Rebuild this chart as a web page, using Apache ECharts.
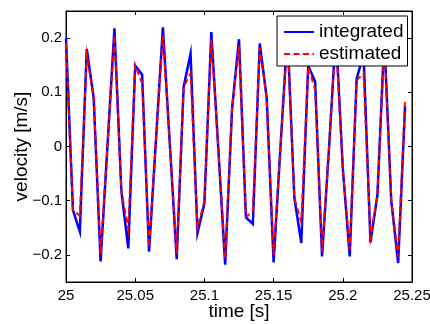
<!DOCTYPE html>
<html>
<head>
<meta charset="utf-8">
<script src="https://cdn.jsdelivr.net/npm/echarts@6/dist/echarts.min.js"></script>
<style>
html,body{margin:0;padding:0;background:#fff;}
#c{width:430px;height:324px;}
</style>
</head>
<body>
<div id="c"></div>
<script>
var time = [25.000,25.005,25.010,25.015,25.020,25.025,25.030,25.035,25.040,25.045,
            25.050,25.055,25.060,25.065,25.070,25.075,25.080,25.085,25.090,25.095,
            25.100,25.105,25.110,25.115,25.120,25.125,25.130,25.135,25.140,25.145,
            25.150,25.155,25.160,25.165,25.170,25.175,25.180,25.185,25.190,25.195,
            25.200,25.205,25.210,25.215,25.220,25.225,25.230,25.235,25.240,25.245];
var integrated = [0.200,-0.117,-0.157,0.180,0.090,-0.212,0.003,0.218,-0.082,-0.188,
                  0.149,0.133,-0.194,0.012,0.220,0.005,-0.208,0.110,0.171,-0.160,
                  -0.105,0.211,-0.002,-0.218,0.070,0.198,-0.131,-0.143,0.190,0.090,
                  -0.214,0.000,0.210,-0.095,-0.178,0.149,0.120,-0.203,-0.005,0.212,
                  -0.040,-0.203,0.125,0.170,-0.177,-0.090,0.200,-0.100,-0.215,0.075];
var estimated = [0.190,-0.117,-0.128,0.170,0.090,-0.200,0.003,0.205,-0.082,-0.152,
                 0.150,0.117,-0.185,0.012,0.205,0.005,-0.198,0.110,0.135,-0.150,
                 -0.100,0.198,-0.002,-0.207,0.070,0.185,-0.130,-0.120,0.182,0.090,
                 -0.200,0.000,0.200,-0.095,-0.140,0.147,0.105,-0.193,-0.005,0.200,
                 -0.040,-0.190,0.122,0.135,-0.168,-0.090,0.190,-0.100,-0.203,0.088];
var xTicks = [25, 25.05, 25.1, 25.15, 25.2, 25.25];
var yTicks = [-0.2, -0.1, 0, 0.1, 0.2];
var xRange = [25, 25.25];
var yRange = [-0.25, 0.25];
var xLabelName = 'time [s]';
var yLabelName = 'velocity [m/s]';
var seriesNames = ['integrated', 'estimated'];

var FONT = 'Liberation Sans, Arial, Helvetica, sans-serif';
function pair(a,b){ return a.map(function(t,i){ return [t,b[i]]; }); }
function fmtX(v){ return String(parseFloat(v.toFixed(3))); }
function fmtY(v){ var s = String(parseFloat(v.toFixed(2))); return s.replace('-', '\u2212'); }
function aLine(){ return {show:true, onZero:false, lineStyle:{color:'#000', width:1}}; }
function aTick(){ return {show:true, inside:true, length:4, lineStyle:{color:'#000', width:1}}; }

var chart = echarts.init(document.getElementById('c'));
chart.setOption({
  animation:false,
  grid:{left:66, right:18, top:11, bottom:42, containLabel:false, outerBoundsMode:'none',
        show:true, borderColor:'#000', borderWidth:1},
  legend:{
    left:277, top:16, orient:'vertical',
    data:seriesNames,
    backgroundColor:'#fff', borderColor:'#000', borderWidth:1,
    padding:[6,4,2,6], itemGap:2, itemWidth:30, itemHeight:20,
    itemStyle:{opacity:0},
    textStyle:{fontFamily:FONT, fontSize:19, color:'#000', lineHeight:20},
    selectedMode:false
  },
  xAxis:[{
    type:'value', min:xRange[0], max:xRange[1], interval:0.05,
    name:xLabelName, nameLocation:'middle', nameGap:20, nameMoveOverlap:false,
    nameTextStyle:{fontFamily:FONT, fontSize:19, color:'#000'},
    axisLine:aLine(), axisTick:aTick(),
    axisLabel:{formatter:fmtX, fontFamily:FONT, fontSize:15, color:'#000', margin:6},
    splitLine:{show:false}
  },{
    type:'value', min:xRange[0], max:xRange[1], interval:0.05, position:'top',
    axisLine:aLine(), axisTick:aTick(),
    axisLabel:{show:true, formatter:fmtX, color:'rgba(0,0,0,0)', fontSize:15},
    splitLine:{show:false}
  }],
  yAxis:[{
    type:'value', min:yRange[0], max:yRange[1],
    name:yLabelName, nameLocation:'middle', nameGap:35, nameMoveOverlap:false,
    nameTextStyle:{fontFamily:FONT, fontSize:19, color:'#000'},
    axisLine:aLine(), axisTick:Object.assign(aTick(), {customValues:yTicks}),
    axisLabel:{customValues:yTicks, formatter:fmtY, fontFamily:FONT, fontSize:15, color:'#000', margin:4},
    splitLine:{show:false}
  },{
    type:'value', min:yRange[0], max:yRange[1], position:'right',
    axisLine:aLine(), axisTick:Object.assign(aTick(), {customValues:yTicks}),
    axisLabel:{show:true, customValues:yTicks, formatter:fmtY, color:'rgba(0,0,0,0)', fontSize:15},
    splitLine:{show:false}
  }],
  series:[{
    name:seriesNames[0], type:'line', xAxisIndex:0, yAxisIndex:0,
    data:pair(time, integrated), symbol:'none', silent:true,
    lineStyle:{color:'#0000ff', width:2.5, join:'miter'},
    itemStyle:{color:'#0000ff'}
  },{
    name:seriesNames[1], type:'line', xAxisIndex:0, yAxisIndex:0,
    data:pair(time, estimated), symbol:'none', silent:true,
    lineStyle:{color:'#ff0000', width:2, type:[6,3.5], join:'miter'},
    itemStyle:{color:'#ff0000'}
  },{
    name:'frame', type:'line', xAxisIndex:1, yAxisIndex:1,
    data:pair(time, integrated), symbol:'none', silent:true,
    lineStyle:{opacity:0, width:0}, itemStyle:{opacity:0}
  }]
});
</script>
</body>
</html>
